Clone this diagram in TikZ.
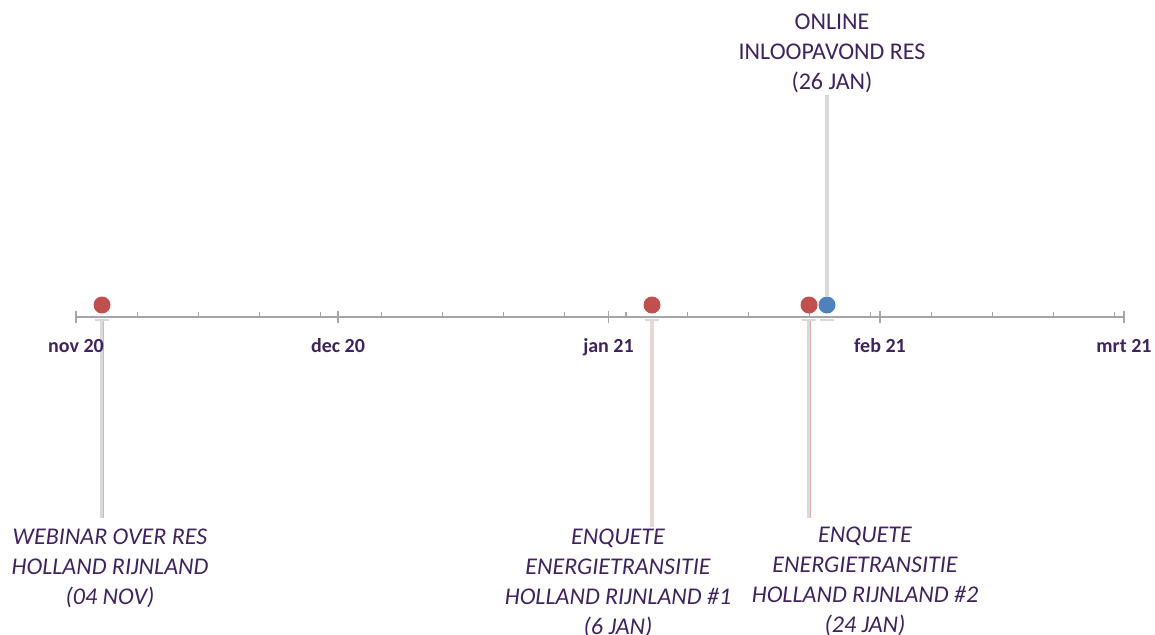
\documentclass[tikz,border=0pt]{standalone}
\usepackage{fontspec}
\setmainfont{Carlito}

\definecolor{txtpurple}{HTML}{40235E}
\definecolor{axisgray}{HTML}{A6A6A6}
\definecolor{stemgray}{HTML}{D9D9D9}
\definecolor{stempink}{HTML}{E6D6D6}
\definecolor{dotred}{HTML}{C0504D}
\definecolor{dotblue}{HTML}{4F81BD}

\tikzset{
  event/.style={circle, fill=#1, inner sep=0pt, minimum size=17pt},
  evlabel/.style={text=txtpurple, align=center, inner sep=2pt, anchor=north,
    font=\fontsize{24}{30}\selectfont},
  month/.style={text=txtpurple, inner sep=0pt, anchor=base,
    font=\fontsize{20}{24}\selectfont\bfseries},
  stem/.style={draw=#1, line width=4pt},
  stemred/.style={draw=dotred!45, line width=0.4pt},
  tab/.style={draw=stemgray, line width=2pt},
}

\begin{document}
\begin{tikzpicture}[x=1pt, y=-1pt]
  \useasboundingbox (0,0) rectangle (1155,634);

  % Axis
  \coordinate (ax) at (0,320);
  \draw[axisgray, line width=1.5pt] (76,317) -- (1124,317);
  \foreach \d in {7,14,...,119}
    \draw[axisgray, line width=1.2pt] ({76+8.73*\d},317) -- ++(0,-5);
  \foreach \x in {76,338,608.5,880,1124}
    \draw[axisgray, line width=1.2pt] (\x,311) -- (\x,323);

  % Define nodes
  \node[event=dotred]  (w)  at (102,305) {};
  \node[event=dotred]  (q1) at (652,305) {};
  \node[event=dotred]  (q2) at (809,305) {};
  \node[event=dotblue] (o)  at (827,305) {};

  \node[evlabel, font=\fontsize{24}{30}\selectfont\itshape] (lw)  at (110,527)
    {WEBINAR OVER RES\\HOLLAND RIJNLAND\\(04 NOV)};
  \node[evlabel, font=\fontsize{24}{30}\selectfont\itshape] (lq1) at (618,527)
    {ENQUETE\\ENERGIETRANSITIE\\HOLLAND RIJNLAND \#1\\(6 JAN)};
  \node[evlabel, font=\fontsize{24}{30}\selectfont\itshape] (lq2) at (865,525)
    {ENQUETE\\ENERGIETRANSITIE\\HOLLAND RIJNLAND \#2\\(24 JAN)};
  \node[evlabel] (lo) at (832,12)
    {ONLINE\\INLOOPAVOND RES\\(26 JAN)};

  % Connect the nodes
  \draw[stem=stemgray] (w |- ax) -- (w |- 0,518);
  \draw[stemred] ([xshift=0.8pt]w |- ax) -- ([xshift=0.8pt]w |- 0,518);
  \draw[stem=stempink] (q1 |- ax) -- (q1 |- lq1.north);
  \draw[stem=stemgray] (q2 |- ax) -- (q2 |- 0,518);
  \draw[stemred] ([xshift=0.8pt]q2 |- ax) -- ([xshift=0.8pt]q2 |- 0,518);
  \draw[stem=stemgray] (o.north) -- (o |- lo.south);
  \foreach \e in {w,q1,q2,o}
    \draw[tab] (\e |- ax) ++(-7,0) -- ++(14,0);

  % Month labels
  \foreach \x/\m [count=\i] in {76/nov 20, 338/dec 20, 608.5/jan 21, 880/feb 21, 1124/mrt 21}
    \node[month] (m\i) at (\x,352) {\m};

\end{tikzpicture}
\end{document}
